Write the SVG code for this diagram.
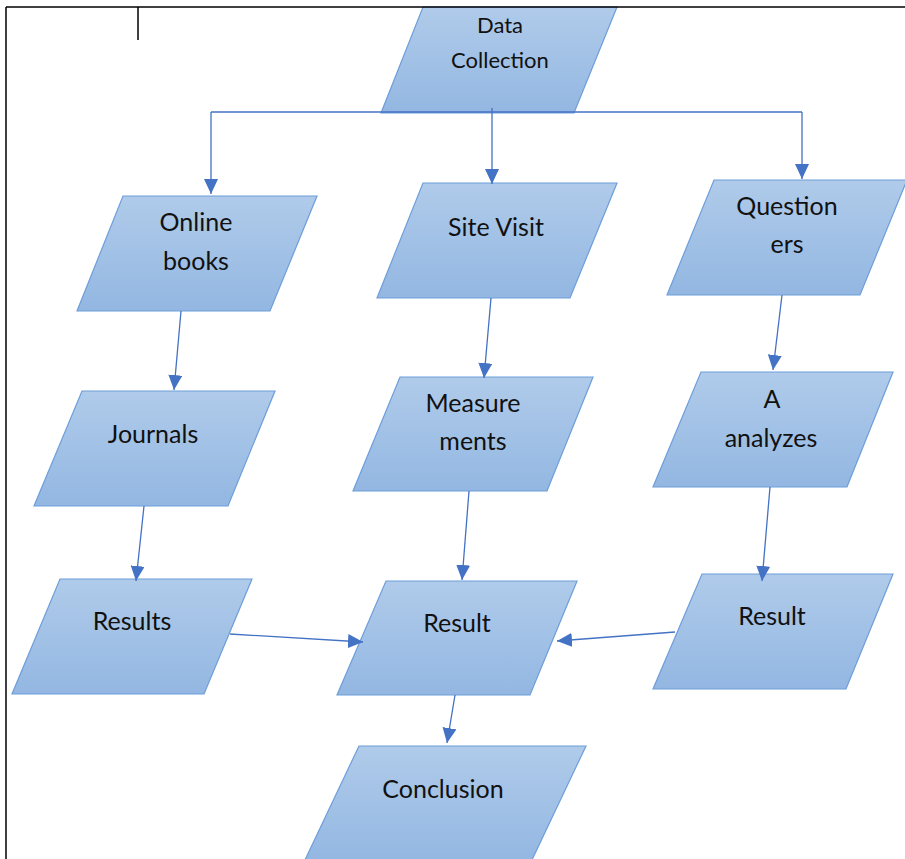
<svg xmlns="http://www.w3.org/2000/svg" width="905" height="859" viewBox="0 0 905 859">
  <defs>
    <linearGradient id="fill" x1="0" y1="0" x2="0" y2="1">
      <stop offset="0" stop-color="#b0cbea"/>
      <stop offset="1" stop-color="#93b7e2"/>
    </linearGradient>
    <marker id="arrow" markerUnits="userSpaceOnUse" markerWidth="15" markerHeight="14" refX="15" refY="7" orient="auto">
      <path d="M0,0 L15,7 L0,14 z" fill="#4472c4"/>
    </marker>
    <style>
      .node { fill: url(#fill); stroke: #6d9eda; stroke-width: 1.2; }
      .lbl { font-family: "Lato", "Carlito", "Liberation Sans", sans-serif; font-size: 25px; fill: #111; text-anchor: middle; }
      .small { font-size: 22px; }
      .conn { fill: none; stroke: #4472c4; stroke-width: 1.3; }
      .arr { marker-end: url(#arrow); }
      .frame { stroke: #000; stroke-width: 1.5; fill: none; }
    </style>
  </defs>

  <rect width="905" height="859" fill="#ffffff"/>

  <g id="data-collection">
    <polygon class="node" points="423,7 617,7 574,113 381,113"/>
    <text class="lbl small" x="500" y="33">Data</text>
    <text class="lbl small" x="500" y="68">Collection</text>
  </g>

  <g id="online-books">
    <polygon class="node" points="123,196 317,196 270,311 77,311"/>
    <text class="lbl" x="196" y="231">Online</text>
    <text class="lbl" x="196" y="270">books</text>
  </g>

  <g id="site-visit">
    <polygon class="node" points="423,183 617,183 570,298 377,298"/>
    <text class="lbl" x="496" y="236">Site Visit</text>
  </g>

  <g id="questioners">
    <polygon class="node" points="714,180 907,180 860,295 667,295"/>
    <text class="lbl" x="787" y="215">Question</text>
    <text class="lbl" x="787" y="253">ers</text>
  </g>

  <g id="journals">
    <polygon class="node" points="82,391 275,391 228,506 34,506"/>
    <text class="lbl" x="153" y="443">Journals</text>
  </g>

  <g id="measurements">
    <polygon class="node" points="400,377 593,377 547,491 353,491"/>
    <text class="lbl" x="473" y="412">Measure</text>
    <text class="lbl" x="473" y="450">ments</text>
  </g>

  <g id="a-analyzes">
    <polygon class="node" points="701,372 893,372 847,487 653,487"/>
    <text class="lbl" x="772" y="408">A</text>
    <text class="lbl" x="771" y="447">analyzes</text>
  </g>

  <g id="results-left">
    <polygon class="node" points="60,579 252,579 204,694 12,694"/>
    <text class="lbl" x="132" y="630">Results</text>
  </g>

  <g id="result-middle">
    <polygon class="node" points="386,581 577,581 530,695 337,695"/>
    <text class="lbl" x="457" y="632">Result</text>
  </g>

  <g id="result-right">
    <polygon class="node" points="702,574 893,574 846,689 653,689"/>
    <text class="lbl" x="772" y="625">Result</text>
  </g>

  <g id="conclusion">
    <polygon class="node" points="359,746 586,746 531,862 304,862"/>
    <text class="lbl" x="443" y="798">Conclusion</text>
  </g>

  <g id="connectors">
    <line class="conn" x1="211" y1="112" x2="802" y2="112"/>
    <line class="conn arr" x1="211" y1="112" x2="211" y2="194"/>
    <line class="conn arr" x1="492" y1="108" x2="492" y2="184"/>
    <line class="conn arr" x1="802" y1="112" x2="802" y2="179"/>
    <line class="conn arr" x1="181" y1="311" x2="174" y2="390"/>
    <line class="conn arr" x1="144" y1="506" x2="136" y2="581"/>
    <line class="conn arr" x1="491" y1="298" x2="484" y2="378"/>
    <line class="conn arr" x1="469" y1="491" x2="462" y2="580"/>
    <line class="conn arr" x1="782" y1="295" x2="773" y2="370"/>
    <line class="conn arr" x1="770" y1="487" x2="762" y2="581"/>
    <line class="conn arr" x1="230" y1="634" x2="363" y2="642"/>
    <line class="conn arr" x1="675" y1="632" x2="557" y2="641"/>
    <line class="conn arr" x1="455" y1="695" x2="447" y2="743"/>
  </g>

  <g id="frame">
    <line class="frame" x1="6" y1="7" x2="905" y2="7"/>
    <line class="frame" x1="6" y1="7" x2="6" y2="859"/>
    <line class="frame" x1="138" y1="7" x2="138" y2="40"/>
  </g>
</svg>
